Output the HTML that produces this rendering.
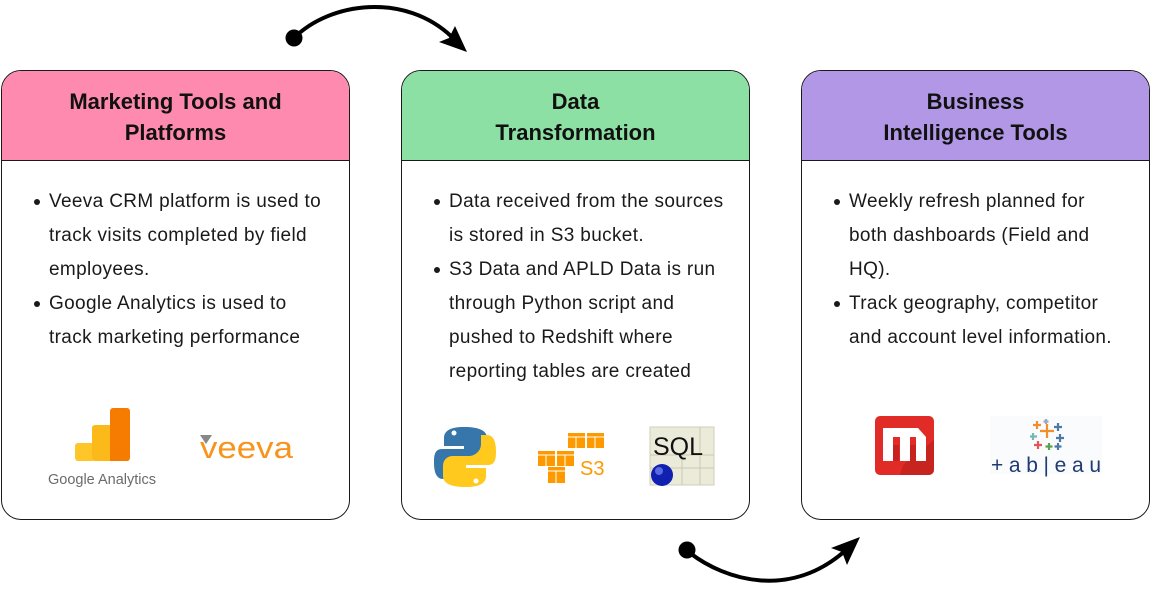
<!DOCTYPE html>
<html><head><meta charset="utf-8">
<style>
*{margin:0;padding:0;box-sizing:border-box}
body{width:1150px;height:590px;background:#fff;position:relative;overflow:hidden;font-family:"Liberation Sans",sans-serif;color:#1a1a1a}
.box{position:absolute;top:70px;width:349px;height:450px;border:1.5px solid #1a1a1a;border-radius:20px;overflow:hidden;background:#fff}
.hd{position:absolute;left:0;top:0;width:100%;height:90px;border-bottom:1.5px solid #1a1a1a}
.ht{position:absolute;left:0;width:100%;text-align:center;font-weight:bold;font-size:22px;line-height:31px;white-space:nowrap;color:#111}
.ln{position:absolute;font-size:19px;line-height:34px;white-space:nowrap;color:#1a1a1a;letter-spacing:0.35px}
.bu{position:absolute;width:6px;height:6px;border-radius:50%;background:#1a1a1a}
svg{position:absolute;left:0;top:0}
</style></head><body>

<!-- Box 1 -->
<div class="box" style="left:1px">
  <div class="hd" style="background:#FE8AAF"></div>
  <div class="ht" style="top:15px">Marketing Tools and</div>
  <div class="ht" style="top:46px">Platforms</div>
  <div class="bu" style="left:32px;top:128px"></div>
  <div class="ln" style="left:47px;top:114px">Veeva CRM platform is used to</div>
  <div class="ln" style="left:47px;top:148px">track visits completed by field</div>
  <div class="ln" style="left:47px;top:182px">employees.</div>
  <div class="bu" style="left:32px;top:230px"></div>
  <div class="ln" style="left:47px;top:216px">Google Analytics is used to</div>
  <div class="ln" style="left:47px;top:250px">track marketing performance</div>
</div>

<!-- Box 2 -->
<div class="box" style="left:401px">
  <div class="hd" style="background:#8CE0A4"></div>
  <div class="ht" style="top:15px">Data</div>
  <div class="ht" style="top:46px">Transformation</div>
  <div class="bu" style="left:32px;top:128px"></div>
  <div class="ln" style="left:47px;top:114px">Data received from the sources</div>
  <div class="ln" style="left:47px;top:148px">is stored in S3 bucket.</div>
  <div class="bu" style="left:32px;top:196px"></div>
  <div class="ln" style="left:47px;top:182px">S3 Data and APLD Data is run</div>
  <div class="ln" style="left:47px;top:216px">through Python script and</div>
  <div class="ln" style="left:47px;top:250px">pushed to Redshift where</div>
  <div class="ln" style="left:47px;top:284px">reporting tables are created</div>
</div>

<!-- Box 3 -->
<div class="box" style="left:801px">
  <div class="hd" style="background:#B297E7"></div>
  <div class="ht" style="top:15px">Business</div>
  <div class="ht" style="top:46px">Intelligence Tools</div>
  <div class="bu" style="left:32px;top:128px"></div>
  <div class="ln" style="left:47px;top:114px">Weekly refresh planned for</div>
  <div class="ln" style="left:47px;top:148px">both dashboards (Field and</div>
  <div class="ln" style="left:47px;top:182px">HQ).</div>
  <div class="bu" style="left:32px;top:230px"></div>
  <div class="ln" style="left:47px;top:216px">Track geography, competitor</div>
  <div class="ln" style="left:47px;top:250px">and account level information.</div>
</div>

<svg width="1150" height="590" viewBox="0 0 1150 590">
  <!-- top arrow -->
  <circle cx="294" cy="38" r="8.5" fill="#000"/>
  <path d="M294,38 C330,2 405,-8 452,37" fill="none" stroke="#000" stroke-width="4"/>
  <polygon points="467,52 439,42 449,38 455,26" fill="#000"/>
  <!-- bottom arrow -->
  <circle cx="687" cy="550" r="8.5" fill="#000"/>
  <path d="M690,553 C725,580 790,600 846,550" fill="none" stroke="#000" stroke-width="4"/>
  <polygon points="860,537 831,548 842,552 847,565" fill="#000"/>

  <!-- Google Analytics -->
  <rect x="75" y="443" width="20" height="18" rx="3" fill="#FFC629"/>
  <rect x="92" y="425" width="22" height="36" rx="3" fill="#FBBA1A"/>
  <rect x="110" y="408" width="20" height="53" rx="3" fill="#F57C00"/>
  <rect x="110" y="425" width="4" height="36" fill="#F57C00"/>
  <text x="102" y="484" font-family="Liberation Sans, sans-serif" font-size="14.5" fill="#6b6b6b" text-anchor="middle">Google Analytics</text>
  <!-- Veeva -->
  <text x="200" y="458" font-family="Liberation Sans, sans-serif" font-size="31" fill="#F7941D" textLength="93" lengthAdjust="spacingAndGlyphs">veeva</text>
  <polygon points="200,435 212,435 206,444" fill="#888"/>

  <!-- Python -->
  <g>
    <path d="M464,427 c-14,0 -20,4 -20,11 v8 h20 v3 h-22 c-8,0 -8,8 -8,14 c0,8 2,16 9,16 h6 v-9 c0,-7 6,-12 12,-12 h16 c6,0 10,-4 10,-10 v-10 c0,-7 -7,-11 -23,-11z" fill="#3776AB"/>
    <circle cx="454" cy="433" r="2.5" fill="#fff"/>
    <path d="M466,487 c14,0 20,-4 20,-11 v-8 h-20 v-3 h22 c8,0 8,-8 8,-14 c0,-8 -2,-16 -9,-16 h-6 v9 c0,7 -6,12 -12,12 h-16 c-6,0 -10,4 -10,10 v10 c0,7 7,11 23,11z" fill="#FFCA1D"/>
    <circle cx="476" cy="481" r="2.5" fill="#fff"/>
  </g>

  <!-- S3 cubes -->
  <g fill="#FF9900">
    <rect x="568" y="433" width="17" height="15"/><rect x="587" y="433" width="17" height="15"/>
    <rect x="538" y="451" width="17" height="15"/><rect x="557" y="451" width="17" height="15"/>
    <rect x="548" y="467" width="17" height="16"/>
  </g>
  <g stroke="#fff" stroke-width="1" fill="none">
    <path d="M568,437 h17 M576,437 v11 M587,437 h17 M595,437 v11 M538,455 h17 M546,455 v11 M557,455 h17 M565,455 v11 M548,471 h17 M556,471 v12"/>
  </g>
  <text x="580" y="475" font-family="Liberation Sans, sans-serif" font-size="20" fill="#FF9900">S3</text>

  <!-- SQL -->
  <rect x="650" y="427" width="64" height="58" fill="#ECEBDA" stroke="#cfcfbf"/>
  <g stroke="#c8c8b4" stroke-width="1">
    <line x1="650" y1="455" x2="714" y2="455"/><line x1="650" y1="468" x2="714" y2="468"/>
    <line x1="682" y1="455" x2="682" y2="485"/><line x1="700" y1="427" x2="700" y2="485"/>
  </g>
  <text x="653" y="455" font-family="Liberation Sans, sans-serif" font-size="25" fill="#111">SQL</text>
  <circle cx="662" cy="475" r="11" fill="#1020B0"/>
  <circle cx="659" cy="471" r="4" fill="#5a6ae0"/>

  <!-- M icon -->
  <rect x="875" y="416" width="59" height="59" rx="5" fill="#E02B26"/>
  <path d="M903,465 L934,440 V470 a5,5 0 0 1 -5,5 H900z" fill="#B81F1B" opacity="0.6"/>
  <path d="M883,428 h35 l8,9 v24 h-10 v-24 h-6 v24 h-10 v-24 h-7 v24 h-10z" fill="#fff"/>
  <g fill="#C7221E"><rect x="893" y="445" width="6" height="16"/><rect x="910" y="445" width="6" height="16"/></g>

  <!-- Tableau -->
  <rect x="990" y="416" width="112" height="58" fill="#FAFBFC"/>
  <g stroke-width="2.2">
    <path d="M1047,424 v14 M1040,431 h14" stroke="#F28E2B"/>
    <path d="M1037,421 v8 M1033,425 h8" stroke="#F28E2B"/>
    <path d="M1058,423 v8 M1054,427 h8" stroke="#4E79A7"/>
    <path d="M1060,434 v8 M1056,438 h8" stroke="#4E79A7"/>
    <path d="M1033,433 v7 M1030,436.5 h7" stroke="#76B7B2"/>
    <path d="M1038,441 v8 M1034,445 h8" stroke="#E15759"/>
    <path d="M1049,443 v7 M1045.5,446.5 h7" stroke="#59A14F"/>
    <path d="M1058,443 v7 M1054.5,446.5 h7" stroke="#4E79A7"/>
    <path d="M1046,419 v5 M1043.5,421.5 h5" stroke="#9BA8C2"/>
  </g>
  <text x="991" y="472" font-family="Liberation Sans, sans-serif" font-size="21" fill="#1F3B73" textLength="110" lengthAdjust="spacing">+ab|eau</text>
</svg>
</body></html>
